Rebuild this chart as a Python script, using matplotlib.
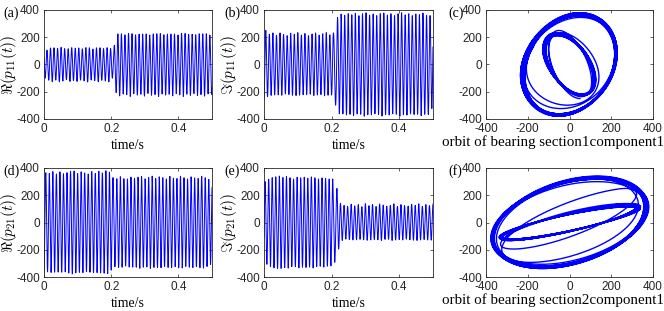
import numpy as np
import matplotlib.pyplot as plt

plt.rcParams['mathtext.fontset'] = 'cm'
plt.rcParams['font.family'] = 'Liberation Sans'
plt.rcParams['axes.unicode_minus'] = False

# --- data ---
freq = 95.0          # Hz, oscillation frequency
t_end = 0.5          # s
t_switch = 0.21      # s, where the response changes

# peak amplitude per cycle, before / after the switch
re11_before = [100, 118, 128, 112, 130, 120, 110, 128, 116, 126, 112, 122, 130, 110, 120, 128, 114, 122, 128, 95]
re11_after = [220, 232, 215, 222, 236, 212, 226, 218, 234, 210, 228, 220, 236, 214, 226, 218, 232, 212, 224, 236,
              216, 228, 212, 230, 220, 234, 214, 220]
im11_before = [250, 222, 232, 214, 232, 220, 212, 230, 222, 234, 216, 228, 212, 224, 232, 216, 226, 234, 218, 230]
im11_after = [340, 372, 358, 376, 362, 380, 356, 370, 384, 360, 374, 356, 372, 382, 360, 376, 356, 370, 384, 362,
              376, 356, 372, 362, 382, 358, 372, 300]
re21_before = [365, 360, 374, 356, 372, 358, 366, 376, 378, 360, 372, 364, 356, 374, 360, 376, 364, 380, 370, 330]
re21_after = [320, 338, 322, 318, 334, 324, 332, 340, 320, 330, 342, 322, 336, 330, 318, 340, 326, 322, 340, 330,
              318, 336, 328, 322, 340, 330, 318, 300]
im21_before = [300, 322, 332, 336, 342, 328, 340, 326, 318, 336, 326, 334, 322, 338, 326, 318, 330, 322, 318, 320]
im21_after = [250, 138, 126, 118, 134, 122, 132, 116, 138, 124, 132, 118, 136, 128, 120, 126, 138, 118, 132, 124,
              120, 134, 126, 138, 118, 132, 124, 135]

# phase (deg) of each signal before / after the switch
re11_phase = [60, 40]
im11_phase = [180, 117]
re21_phase = [180, 150]
im21_phase = [249, 180]

ylabels = [r'$\Re(p_{11}(t))$', r'$\Im(p_{11}(t))$', r'$\Re(p_{21}(t))$', r'$\Im(p_{21}(t))$']
orbit_labels = ['orbit of bearing section1component1', 'orbit of bearing section2component1']
panel_tags = ['(a)', '(b)', '(c)', '(d)', '(e)', '(f)']


def build_signal(before, after, phase):
    amps = np.array(before + after, dtype=float)
    centers = (np.arange(len(amps)) + 0.5) / freq
    env = np.interp(t, centers, amps)
    ph = np.interp(t, [t_switch - 0.5 / freq, t_switch + 0.5 / freq], np.radians(phase))
    return env * np.cos(2 * np.pi * freq * t + ph)


t = np.arange(0, t_end, 1 / 20000)
re11 = build_signal(re11_before, re11_after, re11_phase)
im11 = build_signal(im11_before, im11_after, im11_phase)
re21 = build_signal(re21_before, re21_after, re21_phase)
im21 = build_signal(im21_before, im21_after, im21_phase)

W, H = 664, 311
fig = plt.figure(figsize=(W / 100, H / 100), dpi=100)

col_left = [44, 264, 486]
col_width = [168, 169, 167]
row_top = [10, 168]
ax_h = 109

axc = (0.15, 0.15, 0.15)


def make_axes(r, c):
    ax = fig.add_axes([col_left[c] / W, 1 - (row_top[r] + ax_h) / H, col_width[c] / W, ax_h / H])
    ax.tick_params(direction='in', length=2.5, width=0.5, top=True, right=True,
                   labelsize=8.5, colors=axc, pad=3)
    for s in ax.spines.values():
        s.set_linewidth(0.6)
        s.set_color(axc)
    return ax


series = [[re11, im11], [re21, im21]]
for r in range(2):
    for c in range(2):
        ax = make_axes(r, c)
        ax.plot(t, series[r][c], color='blue', lw=0.7)
        ax.set_xlim(0, t_end)
        ax.set_ylim(-400, 400)
        ax.set_xticks([0, 0.2, 0.4])
        ax.set_xticklabels(['0', '0.2', '0.4'])
        ax.set_yticks([-400, -200, 0, 200, 400])
        ax.set_xlabel('time/s', family='Liberation Serif', fontsize=10, labelpad=3)
        ax.set_ylabel(ylabels[2 * r + c], fontsize=11)
        ax.yaxis.set_label_coords(-(col_left[c] - (19 + 220 * c)) / col_width[c], 0.5)
    ax = make_axes(r, 2)
    ax.plot(series[r][0], series[r][1], color='blue', lw=1.0)
    ax.set_xlim(-400, 400)
    ax.set_ylim(-400, 400)
    ax.set_xticks([-400, -200, 0, 200, 400])
    ax.set_yticks([-400, -200, 0, 200, 400])
    ax.set_xlabel(orbit_labels[r], family='Liberation Serif', fontsize=10.8)
    ax.xaxis.set_label_coords((553 - col_left[2]) / col_width[2], -0.15)

tag_x = [3, 224, 448]
for r in range(2):
    for c in range(3):
        fig.text(tag_x[c] / W, 1 - (row_top[r] + 3) / H, panel_tags[3 * r + c],
                 family='Liberation Serif', fontsize=10, va='center', ha='left')

fig.savefig('out.png', dpi=100)
